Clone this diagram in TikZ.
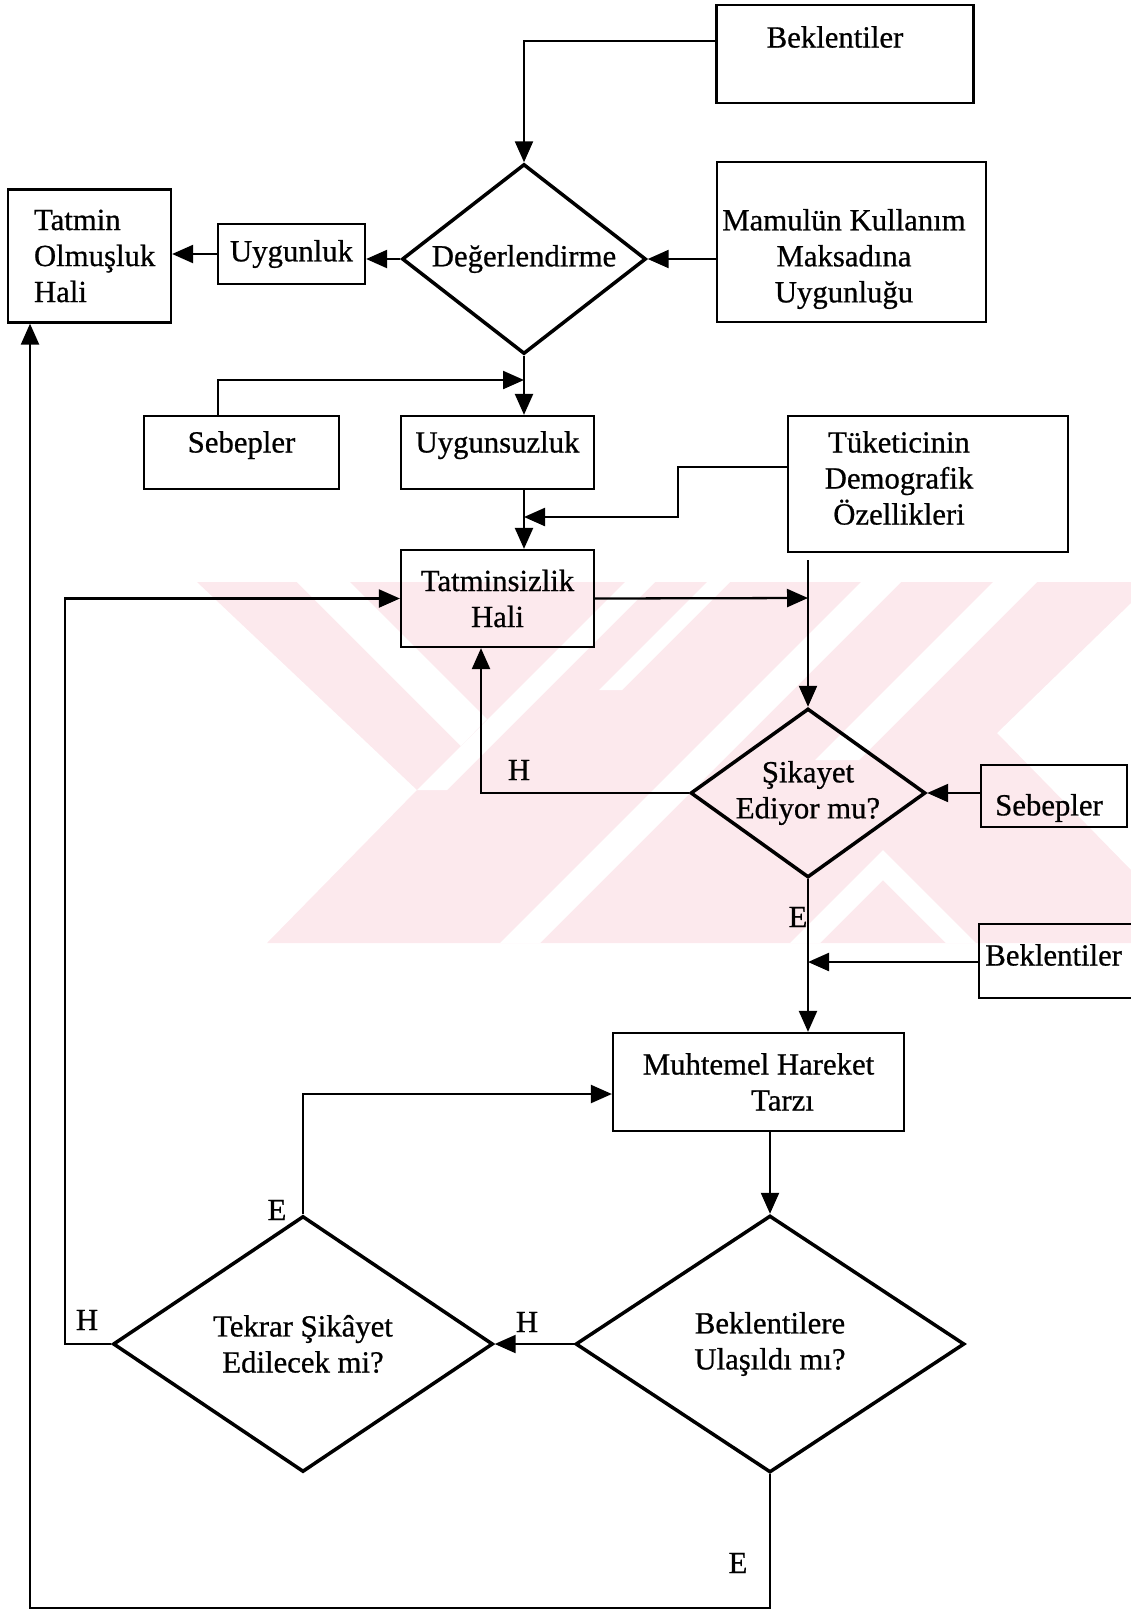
\documentclass[tikz,border=0pt]{standalone}
\usepackage{fontspec}
\setmainfont{Liberation Serif}[FakeBold=0.7]
\usetikzlibrary{shapes.geometric,arrows.meta,calc}
\definecolor{filigran}{RGB}{252,233,237}

\tikzset{
  kutu/.style={draw,line width=1.3pt,inner sep=2pt,align=center},
  karar/.style={draw,diamond,line width=2pt,inner sep=0pt,align=center},
  ok/.style={line width=1.3pt,-{Triangle[length=0.42cm,width=0.36cm]}},
  etiket/.style={inner sep=0pt},
  ortala/.style={text height=0.3cm,text depth=0.3cm},
}

\begin{document}
\begin{tikzpicture}[x=0.02cm,y=-0.02cm,font=\fontsize{17.5}{20.5}\selectfont]
  \useasboundingbox (0,0) rectangle (1131,1610);
  % watermark
  \fill[filigran] (197,582) -- (1131,582) -- (1131,603) -- (997,733) -- (1131,870)
    -- (1131,943) -- (267,943) -- (417,790) -- cycle;
  \fill[white] (297,582) -- (350,582) -- (487,719) -- (461,746) -- cycle;
  \fill[white] (417,790) -- (625,582) -- (655,582) -- (447,790) -- cycle;
  \fill[white] (707,582) -- (730,582) -- (622,690) -- (599,690) -- cycle;
  \fill[white] (500,943) -- (861,582) -- (901,582) -- (540,943) -- cycle;
  \fill[white] (993,582) -- (1037,582) -- (859,760) -- (815,760) -- cycle;
  \fill[white] (790,943) -- (883,850) -- (976,943) -- (946,943) -- (883,880) -- (820,943) -- cycle;

  % boxes and decisions
  \node[kutu,minimum width=5.14cm,minimum height=1.96cm] (bek1) at (845,54) {};
  \node[etiket] (bek1t) at (835,37) {Beklentiler};
  \node[karar,aspect=1.28,minimum width=4.88cm,minimum height=3.8cm] (deger) at (524,259) {Değerlendirme};
  \node[kutu,minimum width=5.38cm,minimum height=3.2cm] (mamul) at (851.5,242) {};
  \node[etiket,align=center] (mamult) at (844,259) {Mamulün Kullanım\\Maksadına\\Uygunluğu};
  \node[kutu,minimum width=2.94cm,minimum height=1.2cm] (uygun) at (291.5,254) {Uygunluk};
  \node[kutu,align=left,text width=2.22cm,minimum width=3.26cm,minimum height=2.66cm] (tatmin) at (89.5,256) {Tatmin\\Olmuşluk\\Hali};
  \node[kutu,ortala,minimum width=3.9cm,minimum height=1.46cm] (sebep1) at (241.5,452.5) {Sebepler};
  \node[kutu,ortala,minimum width=3.86cm,minimum height=1.46cm] (uygunsuz) at (497.5,452.5) {Uygunsuzluk};
  \node[kutu,minimum width=5.6cm,minimum height=2.72cm] (tuketici) at (928,484) {};
  \node[etiket,align=center] (tuketicit) at (899,478) {Tüketicinin\\Demografik\\Özellikleri};
  \node[kutu,minimum width=3.86cm,minimum height=1.94cm] (tatminsiz) at (497.5,598.5) {Tatminsizlik\\Hali};
  \node[karar,aspect=1.39,minimum width=4.7cm,minimum height=3.38cm] (sikayet) at (808,793) {Şikayet\\Ediyor mu?};
  \node[kutu,minimum width=2.92cm,minimum height=1.24cm] (sebep2) at (1054,796) {};
  \node[etiket] (sebep2t) at (1049,808) {Sebepler};
  \node[kutu,minimum width=3.12cm,minimum height=1.48cm] (bek3) at (1057,961) {};
  \node[etiket,anchor=west] (bek3t) at (985,955) {Beklentiler};
  \node[kutu,minimum width=5.82cm,minimum height=1.96cm] (muhtemel) at (758.5,1082) {Muhtemel Hareket\\\hspace*{0.96cm}Tarzı};
  \node[karar,aspect=1.48,minimum width=7.6cm,minimum height=5.12cm] (tekrar) at (303,1344) {Tekrar Şikâyet\\Edilecek mi?};
  \node[karar,aspect=1.51,minimum width=7.78cm,minimum height=5.14cm] (bekl) at (770,1344) {Beklentilere\\Ulaşıldı mı?};

  % junctions on the flow lines
  \coordinate (j1) at (524,380);
  \coordinate (j2) at (524,517);
  \coordinate (t1) at (808,560);
  \coordinate (j3) at (808,598);
  \coordinate (j4) at (808,962);

  % connectors
  \draw[ok] ([yshift=0.26cm]bek1.west) -| (deger.north);
  \draw[ok] (deger.east -| mamul.west) -- (deger.east);
  \draw[ok] (deger.west) -- (deger.west -| uygun.east);
  \draw[ok] (uygun.west) -- (uygun.west -| tatmin.east);
  \draw[ok] (deger.south) -- (deger.south |- uygunsuz.north);
  \draw[ok] ([xshift=-0.47cm]sebep1.north) |- (j1);
  \draw[ok] (deger.south |- uygunsuz.south) -- (deger.south |- tatminsiz.north);
  \draw[ok] ([yshift=0.34cm]tuketici.west) -| (678,517) -- (j2);
  \draw[ok] (tatminsiz.east) -- (j3);
  \draw[ok] (t1) -- (sikayet.north);
  \draw[ok] (sikayet.west) -| ([xshift=-0.33cm]tatminsiz.south);
  \draw[ok] (sebep2.west |- sikayet.east) -- (sikayet.east);
  \draw[ok] (sikayet.south) -- (sikayet.south |- muhtemel.north);
  \draw[ok] (bek3.west |- j4) -- (j4);
  \draw[ok] (bekl.north |- muhtemel.south) -- (bekl.north);
  \draw[ok] (bekl.west) -- (tekrar.east);
  \draw[ok] (tekrar.north) |- ([yshift=-0.24cm]muhtemel.west);
  \draw[ok] (tekrar.west) -- ++(-46,0) |- (tatminsiz.west);
  \draw[ok] (bekl.south) -- ++(0,134) -| ([xshift=-1.19cm]tatmin.south);

  % branch labels
  \node[etiket] (h1) at (519,770) {H};
  \node[etiket] (e1) at (798,917) {E};
  \node[etiket] (e2) at (277,1210) {E};
  \node[etiket] (h2) at (527,1322) {H};
  \node[etiket] (h3) at (87,1320) {H};
  \node[etiket] (e3) at (738,1563) {E};
\end{tikzpicture}
\end{document}
